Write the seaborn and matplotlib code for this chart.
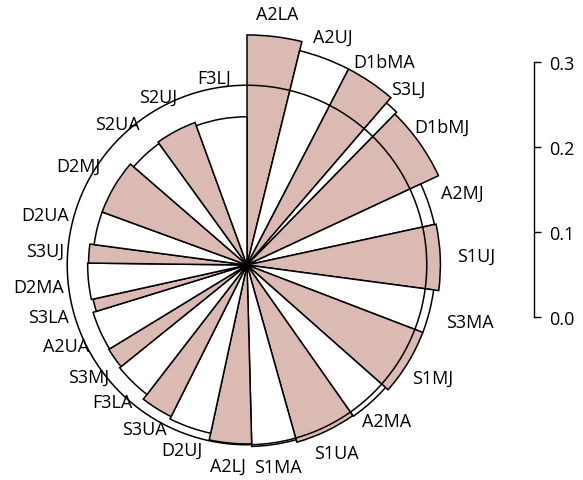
import numpy as np
import matplotlib
matplotlib.use("Agg")
import matplotlib.pyplot as plt
from matplotlib.ticker import FormatStrFormatter
import seaborn as sns

# --- data (clockwise from north) ---
labels = ["A2LA", "A2UJ", "D1bMA", "S3LJ", "D1bMJ", "A2MJ", "S1UJ", "S3MA",
          "S1MJ", "A2MA", "S1UA", "S1MA", "A2LJ", "D2UJ", "S3UA", "F3LA",
          "S3MJ", "A2UA", "S3LA", "D2MA", "S3UJ", "D2UA", "D2MJ", "S2UA",
          "S2UJ", "F3LJ"]
values = [0.270, 0.259, 0.259, 0.251, 0.248, 0.225, 0.227, 0.221,
          0.221, 0.217, 0.216, 0.213, 0.210, 0.202, 0.199, 0.192,
          0.190, 0.189, 0.185, 0.187, 0.186, 0.181, 0.181, 0.176,
          0.178, 0.174]
# angular width of each sector (degrees)
sector_widths = [13.8, 13.6, 13.3, 3.7, 20.6, 12.8, 19.8, 13.4,
                 20.5, 13.4, 19.4, 14.2, 13.7, 14.4, 11.1, 13.4,
                 7.5, 14.3, 4.6, 13.2, 6.9, 12.5, 20.8, 13.2,
                 15.9, 20.0]
reference_value = 0.211
scale_ticks = [0.0, 0.1, 0.2, 0.3]

sns.set_theme(style="white")
plt.rcParams["font.family"] = ["Open Sans", "DejaVu Sans"]
plt.rcParams["text.color"] = "black"

pink = "#dcbab4"
colors = [pink if i % 2 == 0 else "white" for i in range(len(labels))]

edges = np.concatenate([[0], np.cumsum(sector_widths)])
edges = np.deg2rad(edges / edges[-1] * 360)
starts = edges[:-1]
widths = np.diff(edges)

W, H, DPI = 583, 481, 100
fig = plt.figure(figsize=(W / DPI, H / DPI), dpi=DPI)

# polar axes placed so that the radius uses the same scale as the scale bar
cx, cy = 247, 266
px_per_unit = 852
rmax = 0.3
R = rmax * px_per_unit
ax = fig.add_axes([(cx - R) / W, (H - cy - R) / H, 2 * R / W, 2 * R / H],
                  projection="polar")
ax.set_theta_zero_location("N")
ax.set_theta_direction(-1)
ax.bar(starts, values, width=widths, align="edge", color=colors,
       edgecolor="black", linewidth=1.1, zorder=2)
circ = np.linspace(0, 2 * np.pi, 500)
ax.plot(circ, np.full_like(circ, reference_value), color="black", lw=1.1, zorder=3)
ax.set_ylim(0, rmax)
ax.set_axis_off()

# labels outside each sector (and outside the reference circle)
fig.canvas.draw()
renderer = fig.canvas.get_renderer()
for lab, a, r in zip(labels, starts + widths / 2, values):
    base = max(r + 17 / px_per_unit, reference_value + 4 / px_per_unit)
    txt = ax.annotate(lab, xy=(a, base), xytext=(0, 0), textcoords="offset points",
                      ha="center", va="center", fontsize=13, color="black",
                      annotation_clip=False)
    bb = txt.get_window_extent(renderer)
    hw, hh = bb.width / 2, bb.height / 2 - 3
    dx, dy = np.sin(a), np.cos(a)
    tx = hw / abs(dx) if abs(dx) > 1e-6 else np.inf
    ty = hh / abs(dy) if abs(dy) > 1e-6 else np.inf
    d = min(tx, ty) * 72 / DPI
    txt.set_position((dx * d, dy * d))

# separate scale bar on the right
sax = fig.add_axes([534 / W, (H - 318.3) / H, 0.0005, 0.3 * px_per_unit / H])
sax.set_ylim(0, 0.3)
sax.set_yticks(scale_ticks)
sax.yaxis.set_major_formatter(FormatStrFormatter("%.1f"))
sax.set_xticks([])
sax.patch.set_alpha(0)
sns.despine(ax=sax, left=True, top=True, bottom=True, right=False)
sax.spines["right"].set_color("black")
sax.spines["right"].set_linewidth(1.0)
sax.yaxis.tick_right()
sax.tick_params(axis="y", right=True, labelright=True, left=False, labelleft=False,
                direction="out", length=5.3, width=1.0, pad=5.5, labelsize=13,
                colors="black")

fig.savefig("out.png", dpi=DPI)
